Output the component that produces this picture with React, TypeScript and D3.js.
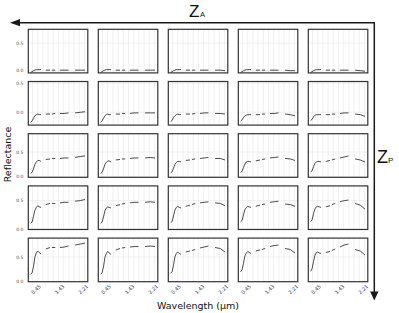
import React from 'react';
import * as d3 from 'd3';

// band index of every sample; null values mark the removed (absorption) bands
const BANDS = [5, 8, 11, 14, 17, 20, 23, 27, 32, 37, 46, 48, 50, 57, 62, 67, 76, 85, 92, 99, 110, 120];

const ROW1 = [
  [-0.03, -0.02, 0.0, 0.01, 0.02, 0.02, 0.02, 0.02, null, 0.01, 0.01, null, 0.01, 0.01, null, 0.01, 0.01, 0.01, null, 0.01, 0.01, 0.01],
  [-0.03, -0.02, 0.0, 0.01, 0.02, 0.02, 0.02, 0.02, null, 0.01, 0.01, null, 0.01, 0.01, null, 0.01, 0.01, 0.01, null, 0.01, 0.01, 0.01],
  [-0.03, -0.02, 0.0, 0.01, 0.02, 0.02, 0.02, 0.02, null, 0.01, 0.01, null, 0.01, 0.01, null, 0.01, 0.01, 0.01, null, 0.01, 0.01, 0.0],
  [-0.03, -0.02, 0.0, 0.01, 0.02, 0.02, 0.02, 0.02, null, 0.01, 0.01, null, 0.01, 0.01, null, 0.01, 0.01, 0.01, null, 0.01, 0.0, 0.0],
  [-0.03, -0.02, 0.0, 0.01, 0.02, 0.02, 0.02, 0.02, null, 0.01, 0.01, null, 0.01, 0.01, null, 0.01, 0.01, 0.01, null, 0.01, 0.0, -0.01],
];

const ROW2 = [
  [-0.17, -0.15, -0.1, -0.06, -0.04, -0.03, -0.04, -0.04, null, -0.03, -0.03, null, -0.03, -0.02, null, -0.02, -0.02, -0.01, null, -0.01, 0.0, 0.01],
  [-0.17, -0.15, -0.1, -0.06, -0.04, -0.03, -0.04, -0.04, null, -0.03, -0.03, null, -0.02, -0.02, null, -0.02, -0.01, -0.01, null, -0.01, -0.01, -0.01],
  [-0.16, -0.14, -0.09, -0.06, -0.04, -0.03, -0.04, -0.04, null, -0.03, -0.03, null, -0.03, -0.02, null, -0.02, -0.01, -0.01, null, -0.02, -0.02, -0.03],
  [-0.15, -0.13, -0.09, -0.06, -0.05, -0.04, -0.04, -0.04, null, -0.04, -0.04, null, -0.03, -0.03, null, -0.02, -0.02, -0.01, null, -0.03, -0.04, -0.06],
  [-0.14, -0.12, -0.08, -0.05, -0.04, -0.04, -0.04, -0.04, null, -0.04, -0.04, null, -0.03, -0.03, null, -0.02, -0.01, -0.01, null, -0.03, -0.04, -0.07],
];

const ROW3 = [
  [0.07, 0.09, 0.16, 0.25, 0.3, 0.33, 0.33, 0.31, null, 0.35, 0.36, null, 0.37, 0.37, null, 0.37, 0.38, 0.38, null, 0.39, 0.41, 0.42],
  [0.07, 0.09, 0.16, 0.25, 0.29, 0.32, 0.32, 0.3, null, 0.34, 0.35, null, 0.36, 0.36, null, 0.37, 0.38, 0.38, null, 0.38, 0.39, 0.38],
  [0.08, 0.1, 0.17, 0.25, 0.29, 0.31, 0.31, 0.3, null, 0.33, 0.34, null, 0.35, 0.36, null, 0.37, 0.38, 0.39, null, 0.37, 0.37, 0.34],
  [0.09, 0.11, 0.19, 0.26, 0.3, 0.31, 0.31, 0.3, null, 0.32, 0.34, null, 0.35, 0.36, null, 0.38, 0.39, 0.4, null, 0.37, 0.36, 0.33],
  [0.1, 0.12, 0.2, 0.27, 0.3, 0.31, 0.31, 0.3, null, 0.31, 0.33, null, 0.34, 0.36, null, 0.38, 0.4, 0.42, null, 0.36, 0.34, 0.3],
];

const ROW4 = [
  [0.1, 0.12, 0.22, 0.33, 0.38, 0.41, 0.39, 0.38, null, 0.43, 0.45, null, 0.45, 0.45, null, 0.46, 0.47, 0.47, null, 0.49, 0.5, 0.52],
  [0.1, 0.12, 0.21, 0.32, 0.37, 0.39, 0.38, 0.37, null, 0.41, 0.43, null, 0.44, 0.45, null, 0.46, 0.47, 0.47, null, 0.47, 0.48, 0.47],
  [0.11, 0.13, 0.23, 0.33, 0.38, 0.4, 0.38, 0.37, null, 0.4, 0.42, null, 0.43, 0.45, null, 0.46, 0.47, 0.48, null, 0.46, 0.45, 0.41],
  [0.13, 0.15, 0.25, 0.34, 0.38, 0.4, 0.39, 0.38, null, 0.4, 0.42, null, 0.43, 0.44, null, 0.47, 0.48, 0.49, null, 0.44, 0.43, 0.4],
  [0.13, 0.16, 0.27, 0.35, 0.39, 0.4, 0.39, 0.38, null, 0.39, 0.41, null, 0.43, 0.45, null, 0.48, 0.5, 0.51, null, 0.45, 0.42, 0.35],
];

const ROW5 = [
  [0.15, 0.18, 0.3, 0.5, 0.58, 0.62, 0.59, 0.56, null, 0.66, 0.69, null, 0.69, 0.69, null, 0.69, 0.7, 0.72, null, 0.74, 0.76, 0.78],
  [0.15, 0.18, 0.3, 0.49, 0.57, 0.61, 0.58, 0.55, null, 0.64, 0.67, null, 0.68, 0.69, null, 0.7, 0.71, 0.71, null, 0.71, 0.72, 0.71],
  [0.17, 0.2, 0.33, 0.5, 0.57, 0.6, 0.57, 0.55, null, 0.6, 0.62, null, 0.63, 0.65, null, 0.68, 0.7, 0.72, null, 0.69, 0.67, 0.6],
  [0.2, 0.24, 0.37, 0.52, 0.58, 0.61, 0.59, 0.57, null, 0.62, 0.64, null, 0.65, 0.67, null, 0.71, 0.73, 0.74, null, 0.67, 0.65, 0.58],
  [0.21, 0.26, 0.41, 0.53, 0.59, 0.6, 0.58, 0.57, null, 0.59, 0.61, null, 0.63, 0.66, null, 0.7, 0.74, 0.76, null, 0.65, 0.62, 0.54],
];

const ROWS = [ROW1, ROW2, ROW3, ROW4, ROW5];

// free y scale per row
const ROW_Y_DOMAINS = [
  [-0.04, 0.75],
  [-0.22, 0.53],
  [-0.01, 0.87],
  [-0.01, 0.76],
  [0, 0.88],
];

const Y_TICKS = [0, 0.5];
const X_DOMAIN = [0, 126];
const X_TICK_BANDS = [20, 70, 120];
const X_TICK_LABELS = ['0.45', '1.43', '2.21'];
const GRID_BANDS = [9, 20, 31, 42, 53, 64, 75, 86, 97, 108, 119];

const W = 399;
const H = 313;
const panelW = 59.5;
const panelH = 43.6;
const colX = d3.range(5).map((c) => 28.3 + c * 70);
const rowY = d3.range(5).map((r) => 29.3 + r * 52.2);

const font = 'DejaVu Sans, sans-serif';

function Panel({ r, c }: { r: number; c: number }) {
  const x0 = colX[c];
  const y0 = rowY[r];
  const x = d3.scaleLinear().domain(X_DOMAIN).range([x0, x0 + panelW]);
  const y = d3.scaleLinear().domain(ROW_Y_DOMAINS[r]).range([y0 + panelH, y0]);
  const values = ROWS[r][c];
  const line = d3
    .line<number>()
    .defined((_, i) => values[i] != null)
    .x((_, i) => x(BANDS[i]))
    .y((d) => y(d as number));

  return (
    <g>
      <rect x={x0} y={y0} width={panelW} height={panelH} fill="#fff" />
      {GRID_BANDS.map((b) => (
        <line key={'v' + b} x1={x(b)} x2={x(b)} y1={y0} y2={y0 + panelH} stroke="#e6e6e6" strokeWidth={0.6} />
      ))}
      {Y_TICKS.map((t) => (
        <line key={'h' + t} x1={x0} x2={x0 + panelW} y1={y(t)} y2={y(t)} stroke="#e6e6e6" strokeWidth={0.6} />
      ))}
      <path d={line(values as number[]) || ''} fill="none" stroke="#111" strokeWidth={0.75} />
      <rect x={x0} y={y0} width={panelW} height={panelH} fill="none" stroke="#333" strokeWidth={1.2} />
      {c === 0 &&
        Y_TICKS.map((t) => (
          <text key={'yl' + t} x={x0 - 5} y={y(t)} dy="0.35em" textAnchor="end" fontSize={4.5} fill="#4d4d4d" fontFamily={font}>
            {t.toFixed(1)}
          </text>
        ))}
      {r === 4 &&
        X_TICK_BANDS.map((b, i) => (
          <text
            key={'xl' + b}
            transform={`translate(${x(b) + 1},${y0 + panelH + 2.5}) rotate(-45)`}
            textAnchor="end"
            dy="0.7em"
            fontSize={5}
            fill="#333"
            fontFamily={font}
          >
            {X_TICK_LABELS[i]}
          </text>
        ))}
    </g>
  );
}

export default function App() {
  const arrowY = 22.7;
  const arrowX = 374.3;
  return (
    <svg width={W} height={H} style={{ position: 'absolute', left: 0, top: 0, background: '#fff' }}>
      {d3.range(5).map((r) => d3.range(5).map((c) => <Panel key={r + '-' + c} r={r} c={c} />))}

      <text transform="translate(10.5,154.5) rotate(-90)" textAnchor="middle" fontSize={9.5} fill="#111" fontFamily={font}>
        Reflectance
      </text>
      <text x={198} y={309} textAnchor="middle" fontSize={9.5} fill="#111" fontFamily={font}>
        Wavelength (µm)
      </text>

      <polyline points={`18,${arrowY} ${arrowX},${arrowY} ${arrowX},292`} fill="none" stroke="#1a1a1a" strokeWidth={1.5} />
      <polygon points={`10,${arrowY} 20,${arrowY - 3.6} 20,${arrowY + 3.6}`} fill="#1a1a1a" />
      <polygon points={`${arrowX},300.5 ${arrowX - 4.2},291.5 ${arrowX + 4.2},291.5`} fill="#1a1a1a" />

      <text x={189} y={17} fontSize={17} fill="#111" fontFamily="Liberation Sans, sans-serif">
        Z
      </text>
      <text x={200} y={16.5} fontSize={7.5} fill="#111" fontFamily="Liberation Sans, sans-serif">
        A
      </text>
      <text x={377} y={162.7} fontSize={18} fill="#111" fontFamily="Liberation Sans, sans-serif">
        Z
      </text>
      <text x={388} y={163} fontSize={8} fill="#111" fontFamily="Liberation Sans, sans-serif">
        P
      </text>
    </svg>
  );
}
